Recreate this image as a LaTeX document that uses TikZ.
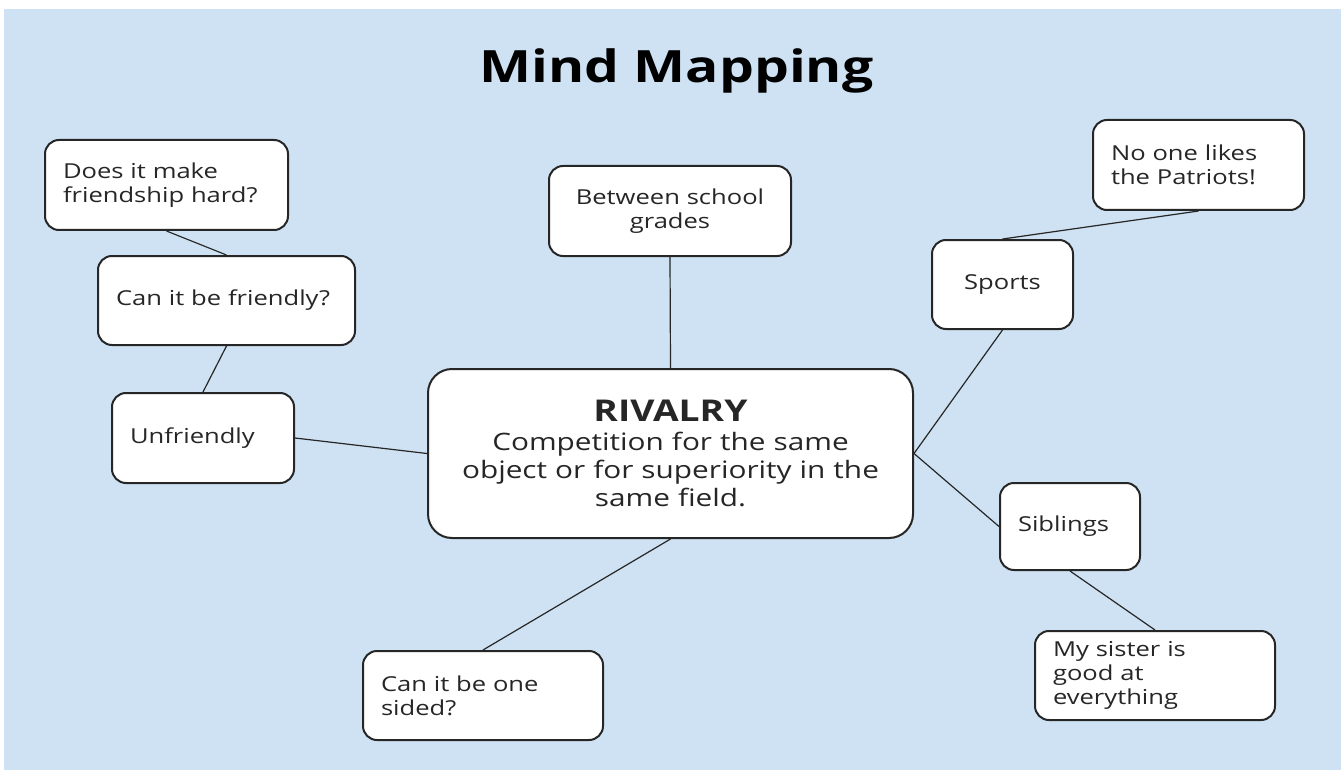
\documentclass[tikz,border=0pt]{standalone}
\usepackage{fontspec}
\setmainfont{Open Sans}[FakeStretch=1.24]
\definecolor{slideblue}{HTML}{CFE2F3}
\definecolor{inkgray}{HTML}{262626}

\begin{document}
\begin{tikzpicture}[x=1pt,y=-1pt,
      idea/.style={draw=inkgray, line width=2pt, rounded corners=14pt, fill=white,
         text=inkgray, inner xsep=18pt, inner ysep=0pt, align=left,
         font=\fontsize{20.6}{24}\selectfont},
      size/.style n args={3}{minimum width=#1pt, minimum height=#2pt, text width=#3pt},
      link/.style={draw=inkgray, line width=1.2pt}]
   \useasboundingbox (0,0) rectangle (1341,770);
   \fill[slideblue] (4,9) rectangle (1341,770);

   \node[anchor=base, font=\fontsize{44.5}{50}\selectfont\bfseries] (title) at (676.5,83) {Mind Mapping};

   % centre topic
   \node[idea, size={485}{169}{449}, align=center, rounded corners=24pt,
      font=\fontsize{24}{28}\selectfont] (rivalry) at (670.5,453.5)
      {{\fontsize{30}{30}\selectfont\bfseries RIVALRY}\\[1pt]Competition for the same\\object or for superiority in the\\same field.};

   % branches
   \node[idea, size={243}{90}{207}] (hard) at (166.5,185) {Does it make\\friendship hard?};
   \node[idea, size={257}{89}{221}] (friendly) at (226.5,300.5) {Can it be friendly?};
   \node[idea, size={182}{90}{146}] (unfriendly) at (203,438) {Unfriendly};
   \node[idea, size={242}{90}{206}, align=center] (school) at (670,211) {Between school\\grades};
   \node[idea, size={141}{89}{105}, align=center] (sports) at (1002.5,284.5) {Sports};
   \node[idea, size={211}{90}{175}] (patriots) at (1198.5,165) {No one likes\\the Patriots!};
   \node[idea, size={140}{87}{104}] (siblings) at (1070,526.5) {Siblings};
   \node[idea, size={240}{89}{204}] (sister) at (1155,675.5) {My sister is\\good at\\everything};
   \node[idea, size={240}{89}{204}] (onesided) at (483,695.5) {Can it be one\\sided?};

   % connectors
   \draw[link] (hard.south) -- (friendly.north);
   \draw[link] (friendly.south) -- (unfriendly.north);
   \draw[link] (unfriendly.east) -- (rivalry.west);
   \draw[link] (school.south) -- (rivalry.north);
   \draw[link] (rivalry.east) -- (sports.south);
   \draw[link] (sports.north) -- (patriots.south);
   \draw[link] (rivalry.east) -- (siblings.west);
   \draw[link] (siblings.south) -- (sister.north);
   \draw[link] (rivalry.south) -- (onesided.north);
\end{tikzpicture}
\end{document}
